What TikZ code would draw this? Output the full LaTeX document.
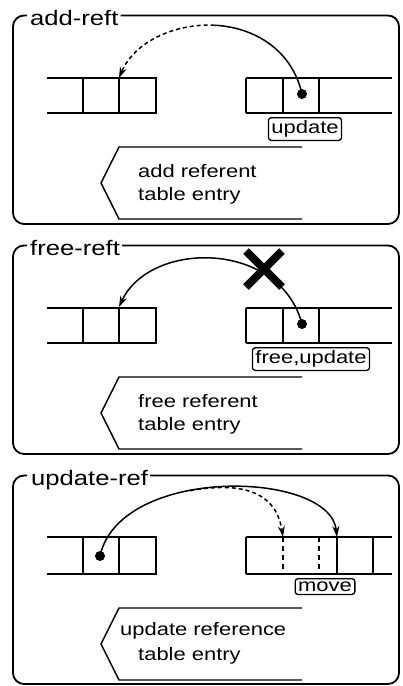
\documentclass[tikz,border=0pt]{standalone}
\usepackage{fontspec}
\setmainfont{Liberation Sans}
\usepackage{graphicx}
\usetikzlibrary{arrows.meta}
\newcommand\wtxt[1]{\scalebox{1.22}[1]{#1}}
\tikzset{
  frame/.style={line width=1.8pt, rounded corners=11pt},
  cell/.style={line width=1.4pt},
  dcell/.style={line width=1.4pt, dash pattern=on 5pt off 4pt},
  ttl/.style={font=\fontsize{21}{24}\selectfont, inner sep=0pt, anchor=base west},
  lbl/.style={font=\fontsize{18}{21}\selectfont, inner sep=0pt, anchor=base west},
  tag/.style={draw, line width=1.3pt, rounded corners=3pt, inner xsep=3pt, inner ysep=3pt, font=\fontsize{18}{21}\selectfont, anchor=north},
  refline/.style={line width=1.5pt},
  refarrow/.style={line width=1.5pt, -{Stealth[length=11pt,width=7pt]}},
  dsh/.style={dash pattern=on 4pt off 3pt},
  dotmark/.style={circle, fill, inner sep=0pt, minimum size=10pt},
  pent/.style={line width=1.4pt},
  cross/.style={line width=8pt},
}
\begin{document}
\begin{tikzpicture}[x=1pt,y=-1pt]
\useasboundingbox (0,0) rectangle (403,686);

% ---------------- Panel 1: add-reft ----------------
\begin{scope}
  \node[ttl] (t1) at (30,25) {\wtxt{add-reft}};
  \coordinate (tl1) at (0,15.5);
  \draw[frame] ([xshift=2pt]t1.east |- tl1) -- (399,15.5) -- (399,224) -- (13,224) -- (13,15.5) -- (27,15.5);
  % left array
  \draw[cell] (47,78) -- (157,78) (47,113) -- (157,113)
              (83,78) -- (83,113) (119,78) -- (119,113) (156,78) -- (156,113);
  % right array
  \draw[cell] (246,78) -- (392,78) (246,113) -- (392,113)
              (246,78) -- (246,113) (283,78) -- (283,113) (319,78) -- (319,113);
  \node[dotmark] (d1) at (302,94) {};
  \coordinate (a1) at (119,78);
  \coordinate (m1) at (214.6,25.25);
  \draw[refline] (d1.center) .. controls (292,49.5) and (254,27.25) .. (m1);
  \draw[refarrow, dsh] (m1) .. controls (175.25,23.25) and (134.5,41.5) .. (a1);
  \node[tag] (u1) at (305,117) {\wtxt{update}};
  \draw[pent] (302,147) -- (119,147) -- (101,183) -- (119,219) -- (302,219);
  \node[lbl] (l1a) at (138,177) {\wtxt{add referent}};
  \node[lbl] (l1b) at (138,200) {\wtxt{table entry}};
\end{scope}

% ---------------- Panel 2: free-reft ----------------
\begin{scope}[shift={(0,230)}]
  \node[ttl] (t2) at (30,25) {\wtxt{free-reft}};
  \coordinate (tl2) at (0,15.5);
  \draw[frame] ([xshift=2pt]t2.east |- tl2) -- (399,15.5) -- (399,224) -- (13,224) -- (13,15.5) -- (27,15.5);
  \draw[cell] (47,78) -- (157,78) (47,113) -- (157,113)
              (83,78) -- (83,113) (119,78) -- (119,113) (156,78) -- (156,113);
  \draw[cell] (246,78) -- (392,78) (246,113) -- (392,113)
              (246,78) -- (246,113) (283,78) -- (283,113) (319,78) -- (319,113);
  \node[dotmark] (d2) at (302,94) {};
  \coordinate (a2) at (119,77);
  \draw[refarrow] (d2.center) .. controls (280,10) and (150,10) .. (a2);
  \draw[cross] (246,21) -- (282,57) (282,21) -- (246,57);
  \node[tag] (u2) at (311,117) {\wtxt{free,update}};
  \draw[pent] (302,147) -- (119,147) -- (101,183) -- (119,219) -- (302,219);
  \node[lbl] (l2a) at (138,177) {\wtxt{free referent}};
  \node[lbl] (l2b) at (138,200) {\wtxt{table entry}};
\end{scope}

% ---------------- Panel 3: update-ref ----------------
\begin{scope}[shift={(0,460)}]
  \node[ttl] (t3) at (31,25) {\wtxt{update-ref}};
  \coordinate (tl3) at (0,15.5);
  \draw[frame] ([xshift=2pt]t3.east |- tl3) -- (399,15.5) -- (399,224) -- (13,224) -- (13,15.5) -- (27,15.5);
  \draw[cell] (47,77) -- (157,77) (47,114) -- (157,114)
              (83,77) -- (83,114) (119,77) -- (119,114) (156,77) -- (156,114);
  \draw[cell] (246,77) -- (392,77) (246,114) -- (392,114)
              (246,77) -- (246,114) (337,77) -- (337,114) (373,77) -- (373,114);
  \draw[dcell] (283,77) -- (283,114) (319,77) -- (319,114);
  \node[dotmark] (d3) at (100,96) {};
  \coordinate (a3) at (337,77);
  \coordinate (b3) at (283,77);
  \coordinate (s3) at (190,30.7);
  \draw[refarrow] (d3.center) .. controls (120,5) and (330,10) .. (a3);
  \draw[refarrow, dsh] (s3) .. controls (230,23.5) and (275,25) .. (b3);
  \node[tag] (u3) at (325,118) {\wtxt{move}};
  \draw[pent] (302,148) -- (119,148) -- (101,184) -- (119,220) -- (302,220);
  \node[lbl] (l3a) at (120,175) {\wtxt{update reference}};
  \node[lbl] (l3b) at (138,200) {\wtxt{table entry}};
\end{scope}
\end{tikzpicture}
\end{document}
